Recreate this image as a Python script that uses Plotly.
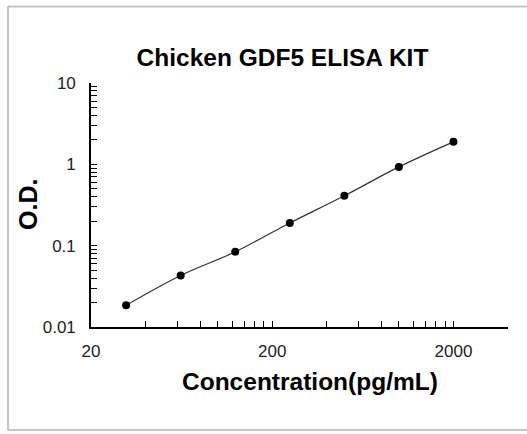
import plotly.graph_objects as go
import numpy as np

# Data
concentration = [31.25, 62.5, 125, 250, 500, 1000, 2000]
od_values = [0.0185, 0.043, 0.084, 0.19, 0.41, 0.93, 1.89]

title_text = "Chicken GDF5 ELISA KIT"
x_title = "Concentration(pg/mL)"
y_title = "O.D."

x_major_labels = ["20", "200", "2000"]
x_major_values = [20, 200, 2000]
x_end = 4000
y_major_labels = ["0.01", "0.1", "1", "10"]
y_major_values = [0.01, 0.1, 1, 10]

# tick positions (log minor ticks)
x_tickvals = []
for base in x_major_values:
    for k in range(1, 10):
        x_tickvals.append(base * k)
x_tickvals = [v for v in x_tickvals if v <= x_end] + [x_end]
x_tickvals = sorted(set(x_tickvals))
x_ticktext = [x_major_labels[x_major_values.index(v)] if v in x_major_values else "" for v in x_tickvals]

y_tickvals = []
for base in y_major_values[:-1]:
    for k in range(1, 10):
        y_tickvals.append(base * k)
y_tickvals.append(y_major_values[-1])
y_ticktext = []
for v in y_tickvals:
    lab = ""
    for mv, ml in zip(y_major_values, y_major_labels):
        if abs(v - mv) < 1e-9:
            lab = ml
    y_ticktext.append(lab)

fig = go.Figure()
fig.add_trace(go.Scatter(
    x=concentration, y=od_values, mode="lines+markers",
    line=dict(color="#333333", width=1.2, shape="spline", smoothing=1),
    marker=dict(color="black", size=8),
    showlegend=False,
))

W, H = 527, 434
L, R, T, B = 91, 19, 83, 107
pw, ph = W - L - R, H - T - B

def px_x(p):
    return (p - L) / pw

def px_y(p):
    return (H - B - p) / ph

tick_font = dict(family="Liberation Sans, Arial, sans-serif", size=17, color="#222222")
border = dict(color="#c4c4c4", width=2)

fig.update_layout(
    width=W, height=H,
    margin=dict(l=L, r=R, t=T, b=B, autoexpand=False),
    paper_bgcolor="white", plot_bgcolor="white",
    title=dict(text="<b>" + title_text + "</b>", x=282.5 / W, xref="container", xanchor="center",
               y=(H - 57) / H, yref="container", yanchor="middle",
               font=dict(family="Liberation Sans, Arial, sans-serif", size=24.5, color="black")),
    xaxis=dict(type="log", range=[np.log10(20), np.log10(x_end)], automargin=False,
               tickvals=x_tickvals, ticktext=x_ticktext, ticks="inside", ticklen=6,
               tickwidth=1.2, tickcolor="black", showline=True, linecolor="black", linewidth=1.6,
               showgrid=False, zeroline=False, tickfont=tick_font, ticklabelstandoff=8),
    yaxis=dict(type="log", range=[-2, 1], automargin=False,
               tickvals=y_tickvals, ticktext=y_ticktext, ticks="inside", ticklen=6,
               tickwidth=1.2, tickcolor="black", showline=True, linecolor="black", linewidth=1.6,
               showgrid=False, zeroline=False, tickfont=tick_font, ticklabelstandoff=10),
    shapes=[
        dict(type="line", xref="paper", yref="paper", x0=px_x(8), x1=px_x(8),
             y0=px_y(430), y1=px_y(6.5), line=border, layer="below"),
        dict(type="line", xref="paper", yref="paper", x0=px_x(8), x1=px_x(527),
             y0=px_y(6.5), y1=px_y(6.5), line=border, layer="below"),
        dict(type="line", xref="paper", yref="paper", x0=px_x(8), x1=px_x(527),
             y0=px_y(430), y1=px_y(430), line=border, layer="below"),
    ],
    annotations=[
        dict(text="<b>" + x_title + "</b>", xref="paper", yref="paper",
             x=px_x(309.5), y=px_y(381), xanchor="center", yanchor="middle", showarrow=False,
             font=dict(family="Liberation Sans, Arial, sans-serif", size=24.5, color="black")),
        dict(text="<b>" + y_title + "</b>", xref="paper", yref="paper", textangle=-90,
             x=px_x(28), y=px_y(205), xanchor="center", yanchor="middle", showarrow=False,
             font=dict(family="Liberation Sans, Arial, sans-serif", size=25, color="black")),
    ],
)

fig.write_html("out.html", config={"displayModeBar": False},
               post_script="document.body.style.margin='0';document.body.style.overflow='hidden';")
